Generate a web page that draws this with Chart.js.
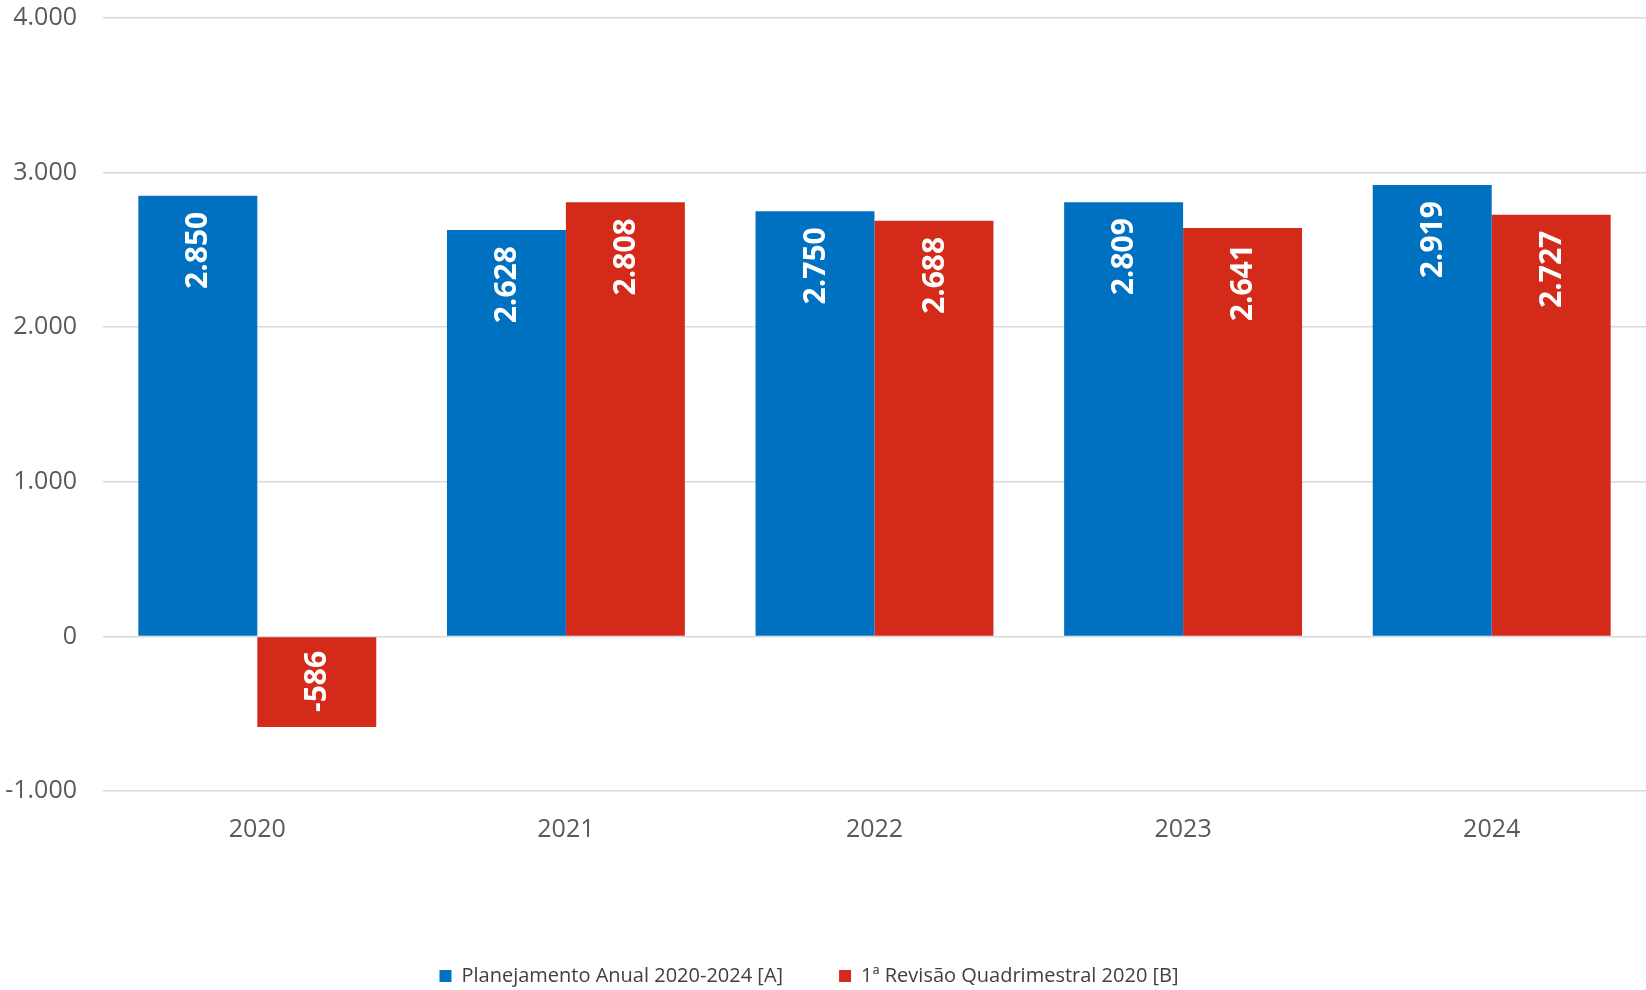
<!DOCTYPE html>
<html>
<head>
<meta charset="utf-8">
<script src="https://cdn.jsdelivr.net/npm/chart.js@4"></script>
<style>
  html, body { margin: 0; padding: 0; background: #ffffff; }
  #wrap { width: 1646px; height: 990px; }
</style>
</head>
<body>
<div id="wrap"><canvas id="c" width="1646" height="990"></canvas></div>
<script>
const categories = ['2020', '2021', '2022', '2023', '2024'];
const seriesA = [2850, 2628, 2750, 2809, 2919];
const seriesB = [-586, 2808, 2688, 2641, 2727];
const seriesNames = ['Planejamento Anual 2020-2024 [A]', '1ª Revisão Quadrimestral 2020 [B]'];
const yTicks = [-1000, 0, 1000, 2000, 3000, 4000];

function fmt(v) {
  const s = Math.abs(Math.round(v)).toString().replace(/\B(?=(\d{3})+(?!\d))/g, '.');
  return (v < 0 ? '-' : '') + s;
}

const labelPlugin = {
  id: 'barLabels',
  afterLayout(chart) {
    const lg = chart.legend;
    if (lg) { lg.left -= 14; lg.right -= 14; lg.top += 6; lg.bottom += 6; }
  },
  afterDatasetsDraw(chart) {
    const ctx = chart.ctx;
    ctx.save();
    ctx.fillStyle = '#ffffff';
    ctx.font = 'bold 30px "Open Sans", "Noto Sans", sans-serif';
    ctx.textBaseline = 'middle';
    chart.data.datasets.forEach((ds, di) => {
      const meta = chart.getDatasetMeta(di);
      meta.data.forEach((bar, i) => {
        const v = ds.data[i];
        const txt = fmt(v);
        ctx.save();
        if (v >= 0) {
          ctx.translate(bar.x, bar.y + 16);
          ctx.rotate(-Math.PI / 2);
          ctx.textAlign = 'right';
        } else {
          ctx.translate(bar.x, bar.y - 15);
          ctx.rotate(-Math.PI / 2);
          ctx.textAlign = 'left';
        }
        ctx.fillText(txt, 0, 1);
        ctx.restore();
      });
    });
    ctx.restore();
  }
};

new Chart(document.getElementById('c'), {
  type: 'bar',
  data: {
    labels: categories,
    datasets: [
      { label: seriesNames[0], data: seriesA, backgroundColor: '#0070C0', borderWidth: 0 },
      { label: seriesNames[1], data: seriesB, backgroundColor: '#D42A1A', borderWidth: 0 }
    ]
  },
  options: {
    responsive: false,
    animation: false,
    devicePixelRatio: 1,
    layout: { padding: { top: 18, right: 0, left: 0, bottom: 0 } },
    datasets: { bar: { categoryPercentage: 0.771, barPercentage: 1.0 } },
    scales: {
      x: {
        grid: { display: false, drawTicks: false },
        border: { display: false },
        ticks: { color: '#595959', font: { family: '"Open Sans", sans-serif', size: 25 }, padding: 24 },
        afterFit: (s) => { s.height = 113; s.paddingLeft = 0; s.paddingRight = 0; s.paddingTop = 0; s.paddingBottom = 0; }
      },
      y: {
        min: -1000, max: 4000,
        afterBuildTicks: (s) => { s.ticks = yTicks.map(v => ({ value: v })); },
        grid: { color: '#D9D9D9', lineWidth: 1.5, drawTicks: false },
        border: { display: false },
        ticks: { color: '#595959', font: { family: '"Open Sans", sans-serif', size: 25 }, padding: 26, callback: (v) => fmt(v) },
        afterFit: (s) => { s.width = 103; s.paddingTop = 0; s.paddingBottom = 0; }
      }
    },
    plugins: {
      legend: {
        position: 'bottom',
        labels: {
          boxWidth: 12, boxHeight: 12, padding: 56,
          color: '#404040',
          font: { family: '"Open Sans", sans-serif', size: 20 }
        }
      },
      tooltip: { enabled: false }
    }
  },
  plugins: [labelPlugin]
});
</script>
</body>
</html>
